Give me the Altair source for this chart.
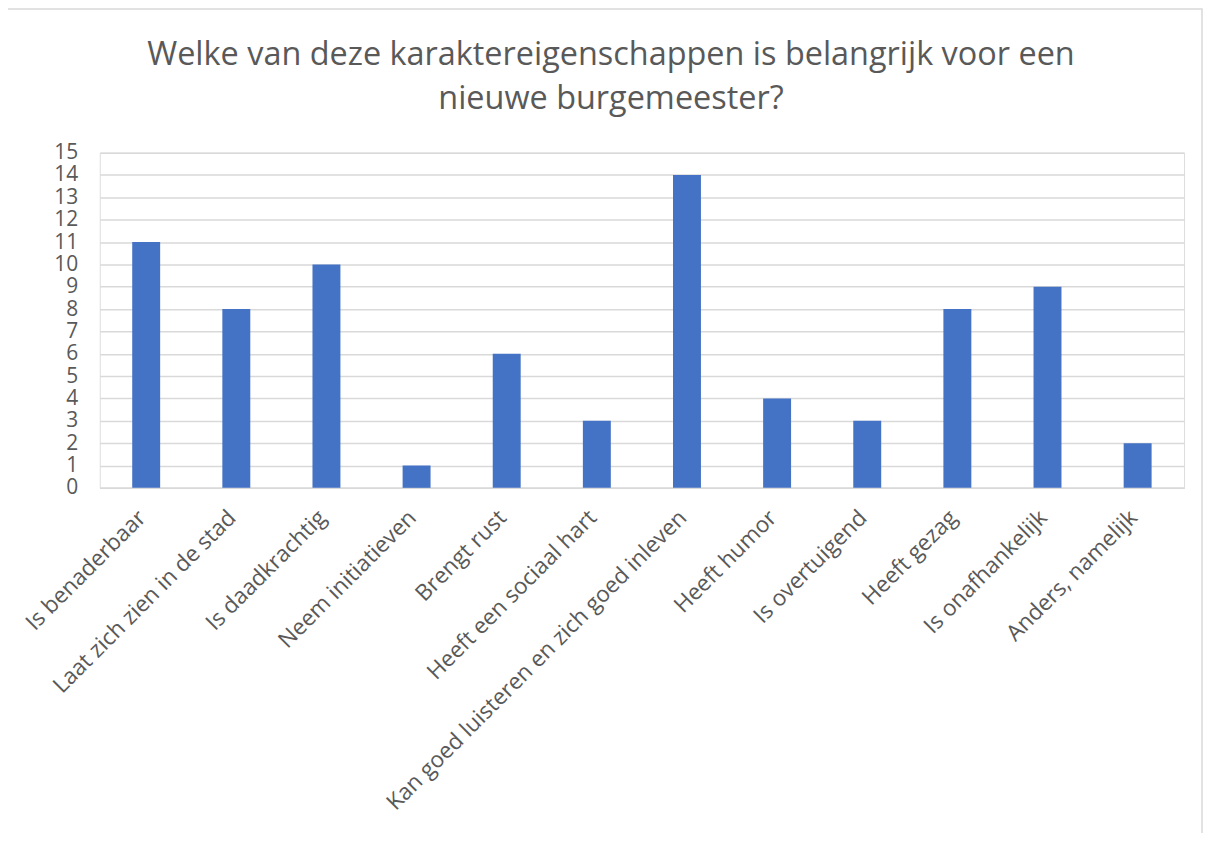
import altair as alt
import pandas as pd

categories = [
    "Is benaderbaar",
    "Laat zich zien in de stad",
    "Is daadkrachtig",
    "Neem initiatieven",
    "Brengt rust",
    "Heeft een sociaal hart",
    "Kan goed luisteren en zich goed inleven",
    "Heeft humor",
    "Is overtuigend",
    "Heeft gezag",
    "Is onafhankelijk",
    "Anders, namelijk",
]
values = [11, 8, 10, 1, 6, 3, 14, 4, 3, 8, 9, 2]
y_ticks = list(range(0, 16))

df = pd.DataFrame({"cat": categories, "val": values})

W, H = 1087, 336
FONT = "Open Sans"
TXT = "#595959"

frame = alt.Chart(pd.DataFrame({"a": [0]})).mark_rect(
    fill=None, stroke="#D9D9D9", strokeWidth=1.5, clip=False
).encode(
    x=alt.value(-93), x2=alt.value(W + 18),
    y=alt.value(-144), y2=alt.value(H + 360),
)

bars = alt.Chart(df).mark_bar(color="#4472C4").encode(
    x=alt.X(
        "cat:N", sort=categories, title=None,
        scale=alt.Scale(paddingInner=0.69, paddingOuter=0.36),
        axis=alt.Axis(
            labelAngle=-45, labelFontSize=22.5, labelColor=TXT, labelFont=FONT,
            ticks=False, domainColor="#D9D9D9", domainWidth=1.5,
            labelPadding=26, labelOffset=-4, labelLimit=0,
            labelAlign="right", labelBaseline="middle",
        ),
    ),
    y=alt.Y(
        "val:Q", title=None,
        scale=alt.Scale(domain=[0, 15], nice=False),
        axis=alt.Axis(
            values=y_ticks, labelFontSize=21, labelColor=TXT, labelFont=FONT,
            ticks=False, domain=False, gridColor="#D9D9D9", gridWidth=1.5,
            labelPadding=22, labelBaseline="middle",
        ),
    ),
)

chart = alt.layer(frame, bars).properties(
    width=W, height=H,
    title=alt.TitleParams(
        text=["Welke van deze karaktereigenschappen is belangrijk voor een", "nieuwe burgemeester?"],
        fontSize=32.5, font=FONT, color=TXT, fontWeight="normal",
        lineHeight=44, anchor="middle", dx=-31, offset=-107,
    ),
    autosize=alt.AutoSizeParams(type="none"),
    padding={"left": 92, "top": 144, "right": 20, "bottom": 345},
).configure_view(stroke=None).configure(background="white")

chart.save("out.html", embed_options={"renderer": "svg", "actions": False})
